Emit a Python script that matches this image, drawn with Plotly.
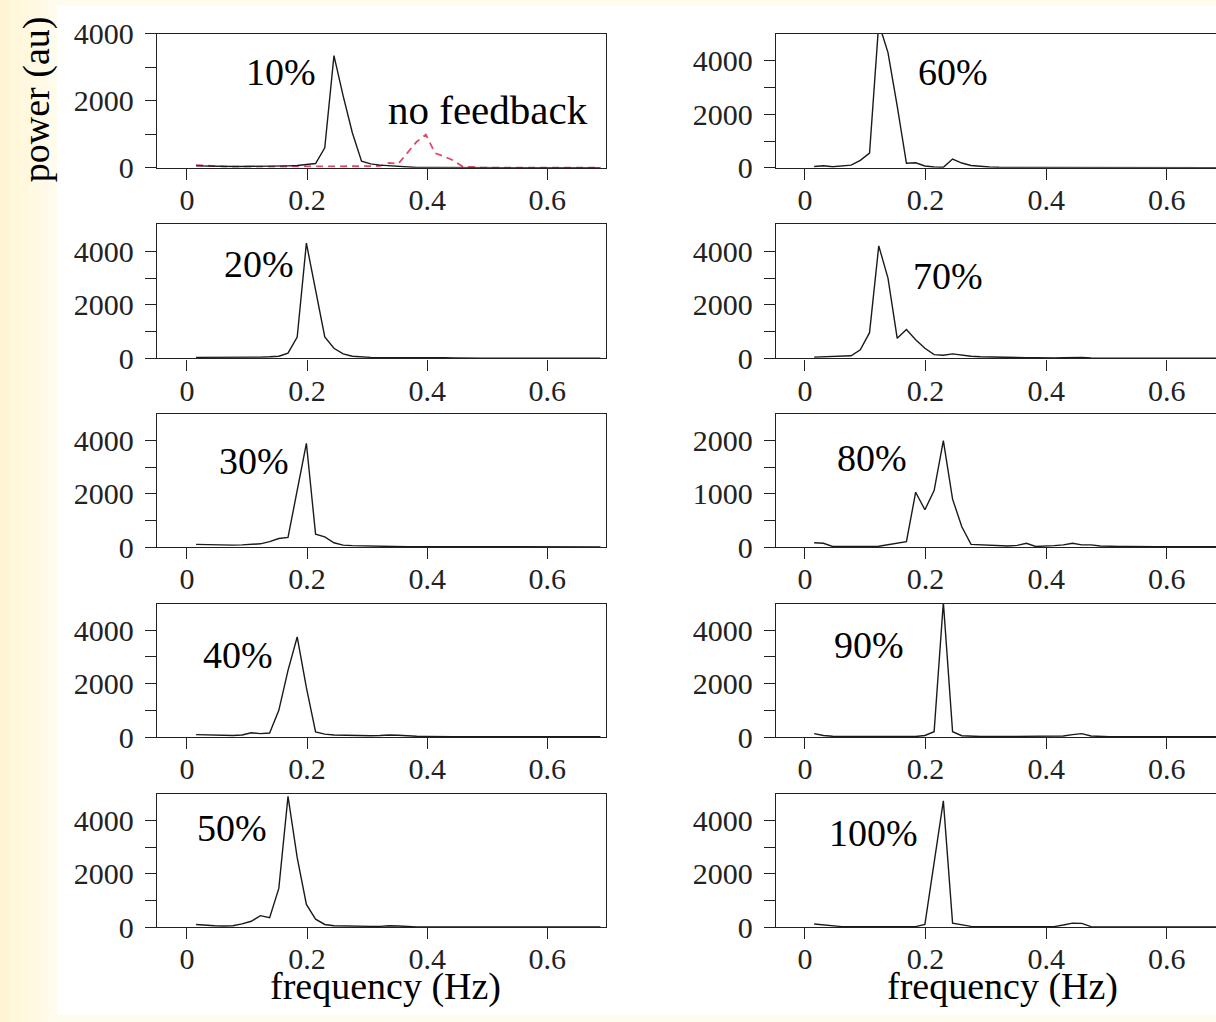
import plotly.graph_objects as go

# ---------------- data ----------------
freq = [0.0153, 0.0306, 0.0459, 0.0612, 0.0765, 0.0918, 0.1071, 0.1224, 0.1377, 0.1530,
        0.1683, 0.1836, 0.1989, 0.2142, 0.2295, 0.2448, 0.2601, 0.2754, 0.2907, 0.3060,
        0.3213, 0.3366, 0.3519, 0.3672, 0.3825, 0.3978, 0.4131, 0.4284, 0.4437, 0.4590,
        0.4743, 0.4896, 0.5049, 0.5202, 0.5355, 0.5508, 0.5661, 0.5814, 0.5967, 0.6120,
        0.6273, 0.6426, 0.6579, 0.6732, 0.6885]

p10 = [60, 50, 40, 40, 40, 40, 40, 40, 50, 50, 60, 70, 90, 130, 600, 3350, 2150, 1050, 200, 120,
       80, 60, 40, 20, 10, 10, 10, 10, 5, 5, 5, 5, 5, 5, 5, 5, 5, 5, 5, 5, 5, 5, 5, 5, 5]
no_feedback = [80, 60, 40, 40, 35, 35, 30, 30, 30, 30, 30, 30, 30, 30, 30, 30, 30, 30, 40, 50,
               60, 150, 120, 450, 780, 990, 440, 340, 220, 40, 20, 10, 5, 5, 5, 5, 5, 5, 5, 5,
               5, 5, 5, 5, 5]
p20 = [40, 40, 30, 30, 30, 40, 40, 50, 60, 80, 200, 800, 4300, 2600, 800, 380, 170, 80, 50, 40,
       30, 30, 30, 30, 40, 50, 40, 30, 20, 10, 10, 10, 10, 10, 10, 10, 10, 10, 10, 10, 10, 10, 10, 10, 10]
p30 = [100, 90, 100, 80, 70, 80, 90, 120, 200, 320, 360, 2100, 3900, 480, 380, 160, 70, 50, 40, 30,
       30, 20, 20, 10, 10, 10, 10, 10, 10, 10, 5, 5, 5, 5, 5, 5, 5, 5, 5, 5, 5, 5, 5, 5, 5]
p40 = [90, 80, 70, 60, 60, 80, 160, 130, 150, 1000, 2500, 3750, 1850, 190, 110, 80, 70, 60, 50, 50,
       60, 80, 70, 40, 30, 20, 10, 10, 10, 10, 10, 10, 10, 10, 10, 10, 10, 10, 10, 10, 10, 10, 10, 10, 10]
p50 = [100, 70, 50, 40, 50, 120, 220, 430, 350, 1450, 4900, 2600, 850, 300, 100, 50, 40, 40, 30, 30,
       30, 50, 40, 20, 10, 10, 10, 10, 10, 10, 10, 10, 10, 10, 10, 10, 10, 10, 10, 10, 10, 10, 10, 10, 10]
p60 = [50, 80, 40, 60, 100, 280, 550, 5400, 4300, 2300, 170, 190, 70, 30, 20, 330, 180, 90, 50, 30,
       20, 20, 20, 15, 10, 10, 10, 10, 10, 10, 10, 10, 10, 10, 10, 10, 10, 10, 10, 10, 10, 10, 10, 10, 10]
p70 = [50, 60, 70, 80, 100, 320, 960, 4200, 3000, 750, 1080, 700, 380, 140, 120, 170, 120, 80, 60, 50,
       50, 40, 40, 30, 30, 20, 20, 30, 40, 40, 20, 10, 10, 10, 10, 10, 10, 10, 10, 10, 10, 10, 10, 10, 10]
p80 = [80, 70, 10, 8, 8, 8, 10, 15, 40, 70, 100, 1030, 700, 1060, 2000, 900, 380, 50, 40, 30,
       20, 20, 30, 70, 10, 15, 25, 40, 70, 40, 40, 20, 10, 10, 10, 5, 5, 5, 5, 5, 5, 5, 5, 5, 5]
p90 = [130, 60, 30, 20, 20, 20, 20, 20, 20, 20, 20, 20, 60, 200, 5050, 200, 50, 30, 20, 20,
       20, 20, 20, 20, 20, 20, 20, 40, 90, 130, 40, 20, 10, 10, 10, 10, 10, 10, 10, 10, 10, 10, 10, 10, 10]
p100 = [120, 80, 40, 20, 20, 20, 20, 20, 20, 20, 20, 20, 100, 2400, 4730, 150, 100, 30, 15, 15,
        15, 15, 15, 15, 15, 15, 20, 80, 150, 140, 20, 5, 5, 5, 5, 5, 5, 5, 5, 5, 5, 5, 5, 5, 5]

x_tick_vals = [0, 0.2, 0.4, 0.6]
x_tick_text = ["0", "0.2", "0.4", "0.6"]
y_ticks_4000 = [0, 1000, 2000, 3000, 4000]
y_text_4000 = ["0", "", "2000", "", "4000"]
y_ticks_2000 = [0, 500, 1000, 1500, 2000]
y_text_2000 = ["0", "", "1000", "", "2000"]

panel_labels = ["10%", "20%", "30%", "40%", "50%", "60%", "70%", "80%", "90%", "100%"]

# ---------------- layout geometry (pixels) ----------------
W, H = 1216, 1022
FONT = "Liberation Serif"


def T(t):
    # vertical position in the target picture -> figure pixel
    return (t - 12.0) / 0.975


rows_px = [(30, 165), (222, 357), (413, 547), (604, 738.5), (795.5, 930)]
cols_px = [(157, 606), (776, 1216)]
x_ranges = [[-0.0498, 0.6977], [-0.048, 0.6816]]

panels = [
    (p10, 0, 0, 4000, y_ticks_4000, y_text_4000),
    (p20, 0, 1, 5000, y_ticks_4000, y_text_4000),
    (p30, 0, 2, 5000, y_ticks_4000, y_text_4000),
    (p40, 0, 3, 5000, y_ticks_4000, y_text_4000),
    (p50, 0, 4, 5000, y_ticks_4000, y_text_4000),
    (p60, 1, 0, 5000, y_ticks_4000, y_text_4000),
    (p70, 1, 1, 5000, y_ticks_4000, y_text_4000),
    (p80, 1, 2, 2500, y_ticks_2000, y_text_2000),
    (p90, 1, 3, 5000, y_ticks_4000, y_text_4000),
    (p100, 1, 4, 5000, y_ticks_4000, y_text_4000),
]

fig = go.Figure()
layout = {}
for i, (vals, col, row, ymax, tv, tt) in enumerate(panels):
    n = i + 1
    xa = "x" if n == 1 else f"x{n}"
    ya = "y" if n == 1 else f"y{n}"
    if n == 1:
        fig.add_trace(go.Scatter(x=freq, y=no_feedback, mode="lines", name="no feedback",
                                 line=dict(color="#dc4b63", width=1.8, dash="7px,5px"),
                                 xaxis=xa, yaxis=ya, showlegend=False))
    fig.add_trace(go.Scatter(x=freq, y=vals, mode="lines", name=panel_labels[i],
                             line=dict(color="#1a1a1a", width=1.4),
                             xaxis=xa, yaxis=ya, showlegend=False))
    c0, c1 = cols_px[col]
    t, b = rows_px[row]
    layout["xaxis" if n == 1 else f"xaxis{n}"] = dict(
        domain=[c0 / W, c1 / W], range=x_ranges[col], anchor=ya,
        tickmode="array", tickvals=x_tick_vals, ticktext=x_tick_text,
        ticks="outside", ticklen=11, tickwidth=1.2, tickcolor="#222",
        showline=True, linecolor="#222", linewidth=1.3, mirror=True,
        showgrid=False, zeroline=False, ticklabelstandoff=-6,
        ticklabeloverflow="allow",
        tickfont=dict(family=FONT, size=30, color="#222"),
    )
    layout["yaxis" if n == 1 else f"yaxis{n}"] = dict(
        domain=[1 - T(b) / H, 1 - T(t) / H], range=[0, ymax], anchor=xa,
        tickmode="array", tickvals=tv, ticktext=tt,
        ticks="outside", ticklen=11, tickwidth=1.2, tickcolor="#222",
        showline=True, linecolor="#222", linewidth=1.3, mirror=(col == 0),
        showgrid=False, zeroline=False, ticklabelstandoff=5,
        ticklabeloverflow="allow",
        tickfont=dict(family=FONT, size=30, color="#222"),
    )

# ---------------- annotations ----------------
label_pos = [(281, 68), (259, 262), (254, 460), (238, 656), (232, 830),
             (953, 68), (948, 274), (872, 457), (869, 646), (873, 835)]
annotations = []
for txt, (px, py) in zip(panel_labels, label_pos):
    annotations.append(dict(text=txt, x=px / W, y=1 - T(py) / H, xref="paper", yref="paper",
                            showarrow=False, xanchor="center", yanchor="middle",
                            font=dict(family=FONT, size=38, color="black")))
annotations.append(dict(text="no feedback", x=488 / W, y=1 - T(107) / H, xref="paper", yref="paper",
                        showarrow=False, xanchor="center", yanchor="middle",
                        font=dict(family=FONT, size=41, color="black")))
for cx in (386, 1002):
    annotations.append(dict(text="frequency (Hz)", x=cx / W, y=1 - 1003 / H, xref="paper", yref="paper",
                            showarrow=False, xanchor="center", yanchor="middle",
                            font=dict(family=FONT, size=38, color="black")))
annotations.append(dict(text="power (au)", x=36 / W, y=1 - 86 / H, xref="paper", yref="paper",
                        showarrow=False, xanchor="center", yanchor="middle", textangle=-90,
                        font=dict(family=FONT, size=38, color="black")))

# ---------------- background ----------------
shapes = []
grad = ["#fff5d4", "#fff7da", "#fff8df", "#fff9e4", "#fffae8", "#fffcee"]
sw = 57 / len(grad)
for j, colr in enumerate(grad):
    shapes.append(dict(type="rect", xref="paper", yref="paper", x0=j * sw / W, x1=(j + 1) * sw / W + 0.001,
                       y0=-0.05, y1=1.05, fillcolor=colr, line=dict(width=0), layer="below"))
shapes.append(dict(type="rect", xref="paper", yref="paper", x0=57 / W, x1=1.01,
                   y0=-0.01, y1=1.01,
                   fillcolor="white", line=dict(width=0), layer="below"))

fig.update_layout(
    width=W, height=H, margin=dict(l=0, r=0, t=0, b=0),
    paper_bgcolor="#fffcee", plot_bgcolor="white",
    annotations=annotations, shapes=shapes, showlegend=False,
    **layout,
)

fig.write_html("out.html")
